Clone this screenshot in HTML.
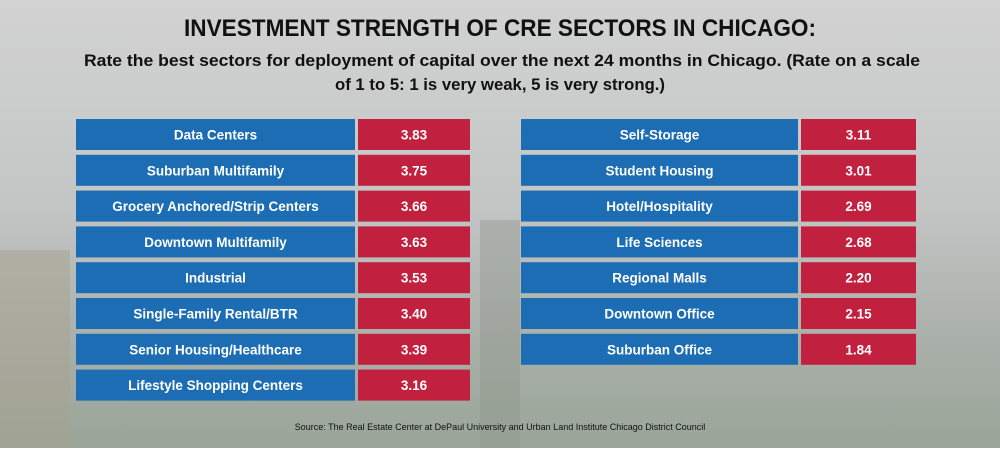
<!DOCTYPE html>
<html><head><meta charset="utf-8"><style>
body{margin:0;width:1000px;height:448px;overflow:hidden;font-family:"Liberation Sans",sans-serif}
</style></head><body>
<svg width="1000" height="448" xmlns="http://www.w3.org/2000/svg">
<defs>
<linearGradient id="bg" x1="0" y1="0" x2="0" y2="1">
<stop offset="0" stop-color="#d2d2d2"/><stop offset="0.45" stop-color="#c4c6c6"/><stop offset="0.75" stop-color="#aab0aa"/><stop offset="1" stop-color="#9aa598"/>
</linearGradient>
</defs>
<rect width="1000" height="448" fill="url(#bg)"/>
<rect x="0" y="250" width="70" height="198" fill="#a7a290" opacity="0.5"/>
<rect x="480" y="220" width="40" height="228" fill="#8f968c" opacity="0.4"/>
<text x="500" y="36" text-anchor="middle" font-size="24" font-weight="bold" fill="#111" textLength="632" lengthAdjust="spacingAndGlyphs">INVESTMENT STRENGTH OF CRE SECTORS IN CHICAGO:</text>
<text x="502" y="66" text-anchor="middle" font-size="17" font-weight="bold" fill="#111" textLength="836" lengthAdjust="spacingAndGlyphs">Rate the best sectors for deployment of capital over the next 24 months in Chicago.  (Rate on a scale</text>
<text x="500" y="90" text-anchor="middle" font-size="17" font-weight="bold" fill="#111" textLength="330" lengthAdjust="spacingAndGlyphs">of 1 to 5: 1 is very weak, 5 is very strong.)</text>
<g id="rows"></g>
<text x="500" y="430" text-anchor="middle" font-size="9" fill="#111">Source:  The Real Estate Center at DePaul University and Urban Land Institute Chicago District Council</text>
</svg>
<script>
const leftCategories=["Data Centers","Suburban Multifamily","Grocery Anchored/Strip Centers","Downtown Multifamily","Industrial","Single-Family Rental/BTR","Senior Housing/Healthcare","Lifestyle Shopping Centers"];
const leftValues=[3.83,3.75,3.66,3.63,3.53,3.40,3.39,3.16];
const rightCategories=["Self-Storage","Student Housing","Hotel/Hospitality","Life Sciences","Regional Malls","Downtown Office","Suburban Office"];
const rightValues=[3.11,3.01,2.69,2.68,2.20,2.15,1.84];
const NS="http://www.w3.org/2000/svg";
const g=document.getElementById('rows');
function rowY(i){return 119+i*35.8;}
function mk(tag,attrs){const e=document.createElementNS(NS,tag);for(const k in attrs)e.setAttribute(k,attrs[k]);return e;}
function table(cats,vals,lx,lw,vx,vw){
 cats.forEach((c,i)=>{
  const y=rowY(i);
  const r1=mk('rect',{x:lx,y:y,width:lw,height:31,fill:'#1c6db3'});
  
  
  g.appendChild(r1);
  const t1=mk('text',{x:lx+lw/2,y:y+20.5,'text-anchor':'middle','font-size':'13.5','font-weight':'bold',fill:'#fff'});
  t1.textContent=c;
  
  
  g.appendChild(t1);
  const r2=mk('rect',{x:vx,y:y,width:vw,height:31,fill:'#c1213f'});
  
  
  g.appendChild(r2);
  const t2=mk('text',{x:vx+vw/2,y:y+20.5,'text-anchor':'middle','font-size':'13.5','font-weight':'bold',fill:'#fff'});
  t2.textContent=vals[i].toFixed(2);
  
  
  g.appendChild(t2);
 });
}
table(leftCategories,leftValues,76,279,358,112);
table(rightCategories,rightValues,521,277,801,115);
</script>
</body></html>
